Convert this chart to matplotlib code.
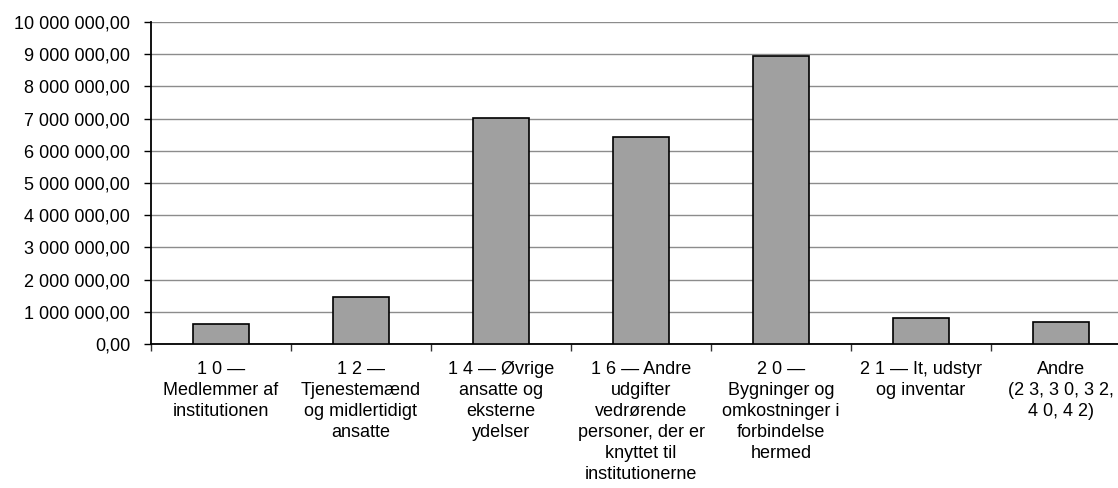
import matplotlib
matplotlib.use("Agg")
import matplotlib.pyplot as plt
from matplotlib.ticker import FuncFormatter, FixedLocator
import numpy as np

plt.rcParams['font.family'] = ['Liberation Sans', 'DejaVu Sans']

# Budget per title (EUR)
categories = [
    "1 0 —\nMedlemmer af\ninstitutionen",
    "1 2 —\nTjenestemænd\nog midlertidigt\nansatte",
    "1 4 — Øvrige\nansatte og\neksterne\nydelser",
    "1 6 — Andre\nudgifter\nvedrørende\npersoner, der er\nknyttet til\ninstitutionerne",
    "2 0 —\nBygninger og\nomkostninger i\nforbindelse\nhermed",
    "2 1 — It, udstyr\nog inventar",
    "Andre\n(2 3, 3 0, 3 2,\n4 0, 4 2)",
]
values = [610000, 1470000, 7020000, 6440000, 8950000, 800000, 690000]
y_ticks = [0, 1e6, 2e6, 3e6, 4e6, 5e6, 6e6, 7e6, 8e6, 9e6, 1e7]


def fmt(v, pos):
    return f"{v:,.2f}".replace(",", " ").replace(".", ",")


fig = plt.figure(figsize=(11.18, 4.88), dpi=100)
# the plot area runs off the right edge in the original
ax = fig.add_axes([151 / 1118, 1 - 344 / 488, 980 / 1118, 322 / 488])

x = np.arange(len(values))
ax.bar(x, values, width=0.4, color='#a0a0a0', edgecolor='black', linewidth=1.2, zorder=3)

ax.set_xlim(-0.5, len(values) - 0.5)
ax.set_ylim(0, 1e7)
ax.set_yticks(y_ticks)
ax.yaxis.set_major_formatter(FuncFormatter(fmt))
ax.yaxis.grid(True, color='#8c8c8c', linewidth=1.0, zorder=0)

# ticks on category boundaries, labels at centres
ax.xaxis.set_major_locator(FixedLocator(np.arange(-0.5, len(values) + 0.5, 1)))
ax.xaxis.set_major_formatter(FuncFormatter(lambda v, p: ""))
ax.xaxis.set_minor_locator(FixedLocator(x))
ax.set_xticklabels(categories, minor=True, linespacing=1.32, va='top')
ax.tick_params(axis='x', which='minor', length=0, pad=12, labelsize=13)
ax.tick_params(axis='x', which='major', length=5, width=1, color='#333333', direction='out')
ax.tick_params(axis='y', length=5, width=1, pad=10, labelsize=13, direction='out')

for side in ['top', 'right']:
    ax.spines[side].set_visible(False)
ax.spines['left'].set_linewidth(1.3)
ax.spines['bottom'].set_linewidth(1.3)

fig.savefig("out.png", dpi=100, facecolor='white')
